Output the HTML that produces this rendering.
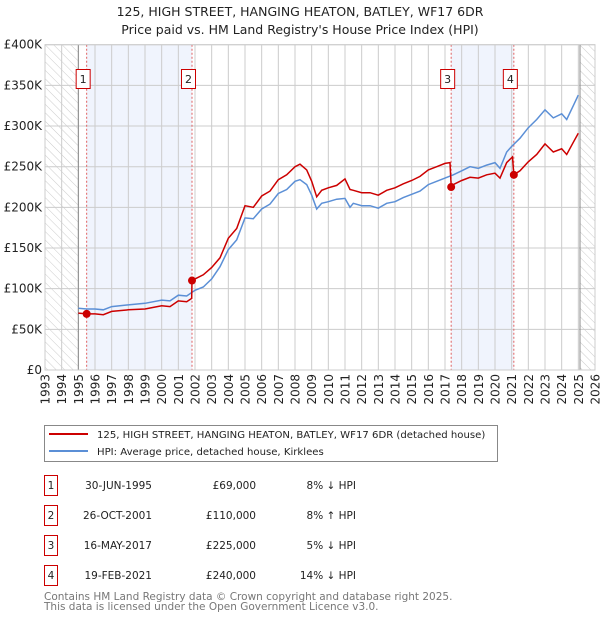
<!DOCTYPE html>
<html><head><meta charset="utf-8">
<style>
body{margin:0;background:#fff;font-family:"DejaVu Sans","Liberation Sans",sans-serif;}
svg text{font-family:"DejaVu Sans","Liberation Sans",sans-serif;}
</style></head>
<body>
<svg id="c" width="600" height="620" viewBox="0 0 600 620">
<defs>
<pattern id="hatch" width="6" height="6" patternUnits="userSpaceOnUse" patternTransform="rotate(-45)">
<line x1="0" y1="0" x2="0" y2="6" stroke="#ccc" stroke-width="1"/>
</pattern>
</defs>
<text x="300" y="16" text-anchor="middle" font-size="12.5" fill="#222">125, HIGH STREET, HANGING HEATON, BATLEY, WF17 6DR</text>
<text x="300" y="34" text-anchor="middle" font-size="12.5" fill="#222">Price paid vs. HM Land Registry's House Price Index (HPI)</text>
<g id="plot"></g>
<g>
<rect x="44.5" y="425.5" width="453" height="36" fill="#fff" stroke="#888"/>
<line x1="49" y1="434" x2="88" y2="434" stroke="#cc0000" stroke-width="2"/>
<text x="97" y="438" font-size="10.1" fill="#222">125, HIGH STREET, HANGING HEATON, BATLEY, WF17 6DR (detached house)</text>
<line x1="49" y1="451" x2="88" y2="451" stroke="#5b8fd6" stroke-width="2"/>
<text x="97" y="455" font-size="10.1" fill="#222">HPI: Average price, detached house, Kirklees</text>
</g>
<g id="table"></g>
<text x="44" y="600" font-size="10.5" fill="#777">Contains HM Land Registry data © Crown copyright and database right 2025.</text>
<text x="44" y="610" font-size="10.5" fill="#777">This data is licensed under the Open Government Licence v3.0.</text>
</svg>
<script>
const hpiYears=[1995,1995.5,1996,1996.5,1997,1998,1999,2000,2000.5,2001,2001.5,2002,2002.5,2003,2003.5,2004,2004.5,2005,2005.5,2006,2006.5,2007,2007.5,2008,2008.3,2008.7,2009,2009.3,2009.6,2010,2010.5,2011,2011.3,2011.5,2012,2012.5,2013,2013.5,2014,2014.5,2015,2015.5,2016,2016.5,2017,2017.5,2018,2018.5,2019,2019.5,2020,2020.3,2020.7,2021,2021.5,2022,2022.5,2023,2023.5,2024,2024.3,2024.7,2025];
const hpiValues=[76,75,75,74,78,80,82,86,85,92,91,98,102,112,127,148,160,187,186,198,204,217,222,232,234,228,215,198,205,207,210,211,200,205,202,202,199,205,207,212,216,220,228,232,236,240,245,250,248,252,255,248,268,275,285,298,308,320,310,315,308,325,338];
const propYears=[1995,1995.5,1996,1996.5,1997,1998,1999,2000,2000.5,2001,2001.5,2001.8,2001.82,2002,2002.5,2003,2003.5,2004,2004.5,2005,2005.5,2006,2006.5,2007,2007.5,2008,2008.3,2008.7,2009,2009.3,2009.6,2010,2010.5,2011,2011.3,2011.5,2012,2012.5,2013,2013.5,2014,2014.5,2015,2015.5,2016,2016.5,2017,2017.3,2017.37,2017.5,2018,2018.5,2019,2019.5,2020,2020.3,2020.7,2021.05,2021.13,2021.5,2022,2022.5,2023,2023.5,2024,2024.3,2024.7,2025];
const propValues=[70,69,69,68,72,74,75,79,78,85,84,88,110,112,117,126,138,162,174,202,200,214,220,234,240,250,253,246,232,213,221,224,227,235,222,221,218,218,215,221,224,229,233,238,246,250,254,255,225,228,233,237,236,240,242,236,255,262,240,245,256,265,278,268,272,265,280,291];
const saleLabels=["1","2","3","4"];
const saleYears=[1995.5,2001.82,2017.37,2021.13];
const salePrices=[69,110,225,240];
const saleDates=["30-JUN-1995","26-OCT-2001","16-MAY-2017","19-FEB-2021"];
const salePriceText=["£69,000","£110,000","£225,000","£240,000"];
const saleHpiText=["8% ↓ HPI","8% ↑ HPI","5% ↓ HPI","14% ↓ HPI"];
const yTicks=[0,50,100,150,200,250,300,350,400];
const yTickLabels=["£0","£50K","£100K","£150K","£200K","£250K","£300K","£350K","£400K"];
const xTicks=[1993,1994,1995,1996,1997,1998,1999,2000,2001,2002,2003,2004,2005,2006,2007,2008,2009,2010,2011,2012,2013,2014,2015,2016,2017,2018,2019,2020,2021,2022,2023,2024,2025,2026];

const X0=45,X1=595,Y0=370,Y1=44.7;
const xs=y=>X0+(y-1993)/(2026-1993)*(X1-X0);
const ys=v=>Y0-v/400*(Y0-Y1);
const NS="http://www.w3.org/2000/svg";
const plot=document.getElementById('plot');
function mk(tag,attrs,parent){const e=document.createElementNS(NS,tag);for(const k in attrs)e.setAttribute(k,attrs[k]);(parent||plot).appendChild(e);return e;}

for(const [a,b] of [[0,1],[2,3]]){
  const r=mk('rect',{x:xs(saleYears[a]),y:Y1,width:xs(saleYears[b])-xs(saleYears[a]),height:Y0-Y1,fill:'#f0f4fd'});
  
  
}
let h1=mk('rect',{x:X0,y:Y1,width:xs(1995)-X0,height:Y0-Y1,fill:'url(#hatch)'});


let h2=mk('rect',{x:xs(2025.1),y:Y1,width:X1-xs(2025.1),height:Y0-Y1,fill:'url(#hatch)'});


for(let i=0;i<yTicks.length;i++){
  const y=ys(yTicks[i]);
  const g=mk('line',{x1:X0,x2:X1,y1:y,y2:y,stroke:'#ccc','stroke-width':1});
  
  
  const t=mk('text',{x:X0-3,y:y+4,'text-anchor':'end','font-size':12,fill:'#222'});
  t.textContent=yTickLabels[i];
  
  
}
for(const yr of xTicks){
  const x=xs(yr);
  const g=mk('line',{x1:x,x2:x,y1:Y1,y2:Y0,stroke:'#ccc','stroke-width':1});
  
  
  const t=mk('text',{x:0,y:0,'text-anchor':'end','font-size':12,fill:'#222',transform:`translate(${x+4.5},${Y0+4}) rotate(-90)`});
  t.textContent=String(yr);
  
  
}
let b1=mk('line',{x1:xs(1995),x2:xs(1995),y1:Y1,y2:Y0,stroke:'#888','stroke-width':1});


let b2=mk('line',{x1:xs(2025.1),x2:xs(2025.1),y1:Y1,y2:Y0,stroke:'#888','stroke-width':1});


for(let i=0;i<saleYears.length;i++){
  const x=xs(saleYears[i]);
  const l=mk('line',{x1:x,x2:x,y1:Y1,y2:Y0,stroke:'#e06060','stroke-width':1,'stroke-dasharray':'2,2'});
  
  
}
function path(xsArr,vsArr){return xsArr.map((yr,i)=>(i?'L':'M')+xs(yr).toFixed(1)+','+ys(vsArr[i]).toFixed(1)).join(' ');}
const hp=mk('path',{d:path(hpiYears,hpiValues),fill:'none',stroke:'#5b8fd6','stroke-width':1.5});


const pp=mk('path',{d:path(propYears,propValues),fill:'none',stroke:'#cc0000','stroke-width':1.5});


for(let i=0;i<saleYears.length;i++){
  const c=mk('circle',{cx:xs(saleYears[i]),cy:ys(salePrices[i]),r:4,fill:'#cc0000'});
  
  
  const x=xs(saleYears[i])-3.5;
  const g=mk('g',{});
  
  
  mk('rect',{x:x-7,y:69.5,width:14,height:19,fill:'#fff',stroke:'#cc0000','stroke-width':1},g);
  const t=mk('text',{x:x,y:83,'text-anchor':'middle','font-size':11,fill:'#222'},g);
  t.textContent=saleLabels[i];
}
let bd=mk('rect',{x:X0,y:Y1,width:X1-X0,height:Y0-Y1,fill:'none',stroke:'#ccc'});


const tb=document.getElementById('table');
for(let i=0;i<saleLabels.length;i++){
  const y=483+i*30;
  const row=mk('g',{},tb);
  
  
  mk('rect',{x:44.5,y:y-7.5,width:13,height:20,fill:'#fff',stroke:'#cc0000','stroke-width':1},row);
  const a=mk('text',{x:51,y:y+6,'text-anchor':'middle','font-size':10.5,fill:'#222'},row);a.textContent=saleLabels[i];
  const d=mk('text',{x:152,y:y+6,'text-anchor':'end','font-size':10.5,fill:'#222'},row);d.textContent=saleDates[i];
  const p=mk('text',{x:256,y:y+6,'text-anchor':'end','font-size':10.5,fill:'#222'},row);p.textContent=salePriceText[i];
  const hh=mk('text',{x:356,y:y+6,'text-anchor':'end','font-size':10.5,fill:'#222'},row);hh.textContent=saleHpiText[i];
}
</script>
</body></html>
